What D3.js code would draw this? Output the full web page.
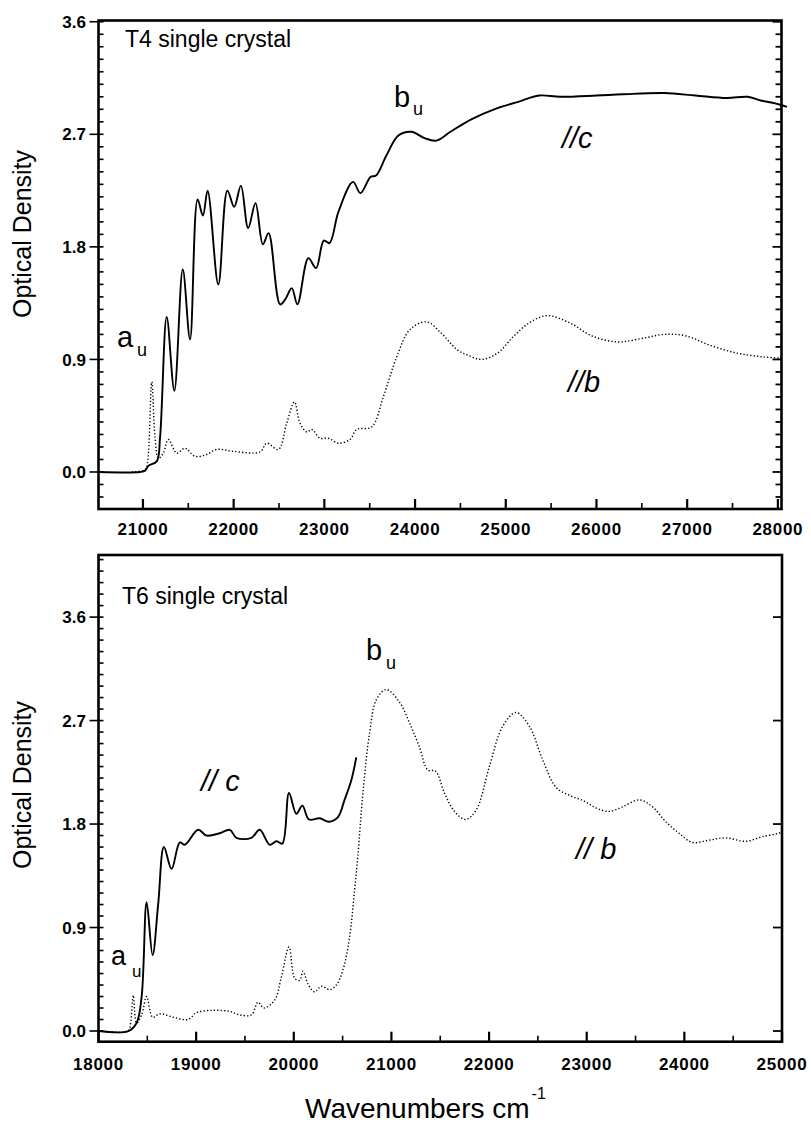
<!DOCTYPE html>
<html><head><meta charset="utf-8">
<script src="https://cdn.jsdelivr.net/npm/d3@7/dist/d3.min.js"></script>
<style>body{margin:0;background:#fff}svg{display:block}text{font-family:"Liberation Sans",Arial,Helvetica,sans-serif;fill:#000}</style>
</head><body>
<svg id="c" width="811" height="1126"></svg>
<script>
// ---------- DATA ----------
// Top panel: T4 single crystal
const t4ParC_x = [20510,20970,21023,21060,21152,21189,21262,21346,21439,21519,21603,21661,21713,21831,21931,22006,22080,22160,22241,22322,22385,22512,22569,22641,22703,22824,22909,22994,23057,23155,23316,23397,23511,23569,23684,23816,23960,24103,24236,24390,24620,24908,25138,25368,25598,26000,26287,26747,27092,27437,27667,27810,27954,28100];
const t4ParC_y = [0,0,0.01,0.05,0.085,0.28,1.24,0.65,1.62,1.06,2.18,2.05,2.25,1.50,2.25,2.12,2.29,1.95,2.15,1.82,1.91,1.34,1.38,1.47,1.34,1.71,1.63,1.85,1.83,2.08,2.32,2.23,2.36,2.37,2.53,2.69,2.72,2.67,2.65,2.72,2.82,2.91,2.96,3.01,3.00,3.01,3.02,3.03,3.01,2.99,3.00,2.97,2.95,2.92];
const t4ParB_x = [20877,21023,21049,21097,21133,21170,21225,21280,21373,21464,21574,21703,21814,21997,22291,22365,22493,22585,22669,22732,22806,22861,22953,23044,23154,23283,23357,23522,23650,23798,23945,24129,24276,24460,24592,24736,24908,25080,25253,25454,25713,25943,26230,26517,26747,26977,27264,27552,27839,28040];
const t4ParB_y = [0,0.02,0.07,0.72,0.28,0.11,0.15,0.26,0.15,0.19,0.125,0.14,0.18,0.165,0.16,0.23,0.18,0.39,0.56,0.39,0.32,0.34,0.27,0.27,0.23,0.26,0.34,0.36,0.60,0.92,1.14,1.20,1.12,0.98,0.93,0.90,0.95,1.08,1.19,1.25,1.19,1.09,1.04,1.07,1.10,1.09,1.01,0.95,0.92,0.91];
// Bottom panel: T6 single crystal
const t6ParC_x = [18000,18305,18390,18442,18493,18554,18612,18670,18748,18833,18884,19020,19106,19242,19345,19413,19566,19651,19754,19822,19883,19951,20026,20088,20155,20265,20360,20452,20520,20589,20640];
const t6ParC_y = [0,0,0.07,0.30,1.12,0.66,1.11,1.60,1.41,1.64,1.62,1.75,1.70,1.72,1.75,1.68,1.68,1.75,1.62,1.65,1.63,2.07,1.89,1.96,1.84,1.85,1.82,1.86,2.01,2.18,2.38];
const t6ParB_x = [18000,18305,18329,18356,18390,18442,18493,18554,18629,18765,18918,19004,19174,19345,19447,19566,19634,19693,19805,19873,19951,20009,20060,20094,20145,20213,20282,20367,20436,20503,20572,20623,20656,20708,20776,20845,20947,21083,21185,21287,21372,21451,21543,21645,21758,21867,22003,22139,22276,22413,22548,22685,22821,22974,23094,23230,23366,23537,23673,23810,23946,24082,24253,24423,24628,24798,24968,25000];
const t6ParB_y = [0,0,0.07,0.31,0.07,0.14,0.30,0.12,0.15,0.12,0.10,0.16,0.18,0.17,0.14,0.14,0.25,0.20,0.27,0.47,0.73,0.46,0.44,0.52,0.41,0.34,0.39,0.36,0.40,0.53,0.82,1.23,1.52,2.07,2.59,2.88,2.97,2.86,2.68,2.47,2.27,2.26,2.07,1.91,1.84,1.92,2.30,2.65,2.77,2.65,2.36,2.12,2.05,2.00,1.94,1.91,1.95,2.01,1.95,1.82,1.72,1.64,1.66,1.68,1.65,1.69,1.72,1.73];
// Ticks
const t4XMajor = [21000,22000,23000,24000,25000,26000,27000,28000];
const t6XMajor = [18000,19000,20000,21000,22000,23000,24000,25000];
const yMajor = [0.0,0.9,1.8,2.7,3.6];

// ---------- DRAW ----------
const svg = d3.select("#c");
const zip = (xs, ys) => xs.map((v,i)=>[v, ys[i]]);

function panel(cfg){
  const g = svg.append("g");
  const x = d3.scaleLinear().domain(cfg.xd).range(cfg.xr);
  const y = d3.scaleLinear().domain(cfg.yd).range(cfg.yr);
  const [x0,x1] = cfg.xr, [y0,y1] = [cfg.yr[1], cfg.yr[0]];
  const xMinor = d3.range(Math.ceil(cfg.xd[0]/500)*500, cfg.xd[1]+1, 500);
  g.selectAll(".xm").data(xMinor).join("line")
    .attr("x1", d=>x(d)).attr("x2", d=>x(d))
    .attr("y1", y1).attr("y2", d=> y1 - (d%1000===0 ? 10 : 6))
    .attr("stroke","#000").attr("stroke-width", d=> d%1000===0 ? 2.2 : 1.6);
  g.selectAll(".xl").data(cfg.xMajor).join("text")
    .attr("x", d=>x(d)).attr("y", cfg.xLabelY).attr("text-anchor","middle")
    .style("font-size","17px").style("font-weight","bold").style("letter-spacing","0.7px")
    .text(d=>d);
  const yMin = d3.range(Math.ceil(cfg.yd[0]*10), Math.floor(cfg.yd[1]*10)+1).map(v=>v/10);
  g.selectAll(".ylm").data(yMin).join("line")
    .attr("x1", x0).attr("x2", x0+5).attr("y1", d=>y(d)).attr("y2", d=>y(d))
    .attr("stroke","#000").attr("stroke-width",1.6);
  g.selectAll(".ylM").data(yMajor).join("line")
    .attr("x1", x0-9).attr("x2", x0).attr("y1", d=>y(d)).attr("y2", d=>y(d))
    .attr("stroke","#000").attr("stroke-width",1.6);
  g.selectAll(".yl").data(yMajor).join("text")
    .attr("x", 86).attr("y", d=>y(d)).attr("dy","0.36em").attr("text-anchor","end")
    .style("font-size","17px").style("font-weight","bold")
    .text(d=>d.toFixed(1));
  const rTicks = cfg.rightMinor ? yMin : yMajor;
  g.selectAll(".yr").data(rTicks).join("line")
    .attr("x1", x1).attr("x2", d=> x1 - (yMajor.some(m=>Math.abs(m-d)<1e-6) ? 9 : 6))
    .attr("y1", d=>y(d)).attr("y2", d=>y(d))
    .attr("stroke","#000").attr("stroke-width",1.8);
  g.append("rect").attr("x",x0).attr("y",y0).attr("width",x1-x0).attr("height",y1-y0)
    .attr("fill","none").attr("stroke","#000").attr("stroke-width",2.6);
  const line = d3.line().x(d=>x(d[0])).y(d=>y(d[1])).curve(d3.curveCatmullRom.alpha(0.5));
  g.append("path").attr("d", line(cfg.dotted)).attr("fill","none").attr("stroke","#000")
    .attr("stroke-width",1.4).attr("stroke-dasharray","1.3,2.1");
  g.append("path").attr("d", line(cfg.solid)).attr("fill","none").attr("stroke","#000")
    .attr("stroke-width",1.9).attr("stroke-linejoin","round");
  g.append("text").attr("x",cfg.title[1]).attr("y",cfg.title[2]).style("font-size","23px").text(cfg.title[0]);
  g.append("text").attr("transform",`translate(31,${cfg.ylabY}) rotate(-90)`).attr("text-anchor","middle")
    .style("font-size","25px").text("Optical Density");
  cfg.notes.forEach(n=>{
    const t = g.append("text").attr("x",n.x).attr("y",n.y).style("font-size",n.fs+"px").text(n.t);
    if(n.it) t.style("font-style","italic");
    if(n.sub){
      g.append("text").attr("x",n.sub.x).attr("y",n.sub.y).style("font-size",n.sub.fs+"px").text(n.sub.t);
    }
  });
  return {x,y};
}

panel({
  xd:[20510,28040], xr:[98.5,781.5], yd:[-0.296,3.61], yr:[509,20.5],
  xMajor:t4XMajor, xLabelY:535, rightMinor:true,
  solid: zip(t4ParC_x,t4ParC_y), dotted: zip(t4ParB_x,t4ParB_y),
  title:["T4 single crystal",125,46.5], ylabY:234,
  notes:[
    {t:"b",x:394,y:107,fs:29,sub:{t:"u",x:413,y:115,fs:18}},
    {t:"//c",x:562,y:148,fs:29,it:true},
    {t:"a",x:117,y:347,fs:29,sub:{t:"u",x:137,y:356,fs:18}},
    {t:"//b",x:568,y:392,fs:29,it:true}
  ]
});

panel({
  xd:[18000,25000], xr:[98.5,782], yd:[-0.093,4.14], yr:[1041.7,555],
  xMajor:t6XMajor, xLabelY:1070, rightMinor:false,
  solid: zip(t6ParC_x,t6ParC_y), dotted: zip(t6ParB_x,t6ParB_y),
  title:["T6 single crystal",122,604], ylabY:785,
  notes:[
    {t:"b",x:366,y:660,fs:29,sub:{t:"u",x:386,y:669,fs:18}},
    {t:"// c",x:201,y:791,fs:29,it:true},
    {t:"// b",x:576,y:859,fs:29,it:true},
    {t:"a",x:111,y:965,fs:27,sub:{t:"u",x:132,y:977,fs:17}}
  ]
});

const xt = svg.append("text").attr("x",305).attr("y",1118).style("font-size","28px").text("Wavenumbers cm");
const w = xt.node().getComputedTextLength();
svg.append("text").attr("x",305+w+2).attr("y",1099).style("font-size","16px").text("-1");
</script>
</body></html>
